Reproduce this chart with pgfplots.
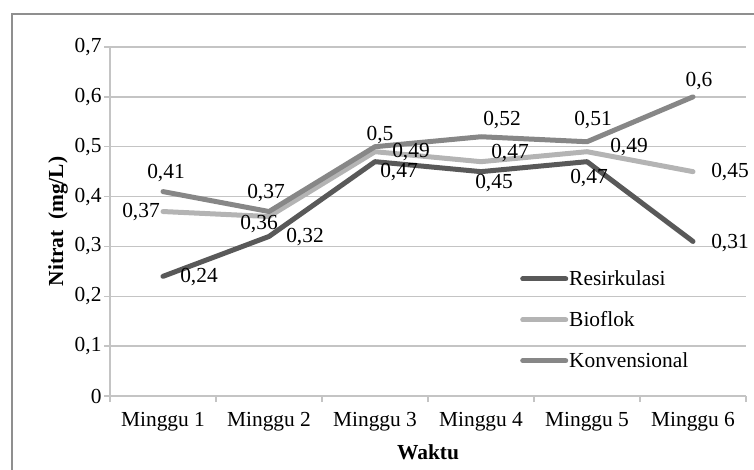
\documentclass[border=0pt]{standalone}
\usepackage{pgfplots}
\pgfplotsset{compat=1.18}
\usepackage{fontspec}
\setmainfont{Liberation Serif}

\definecolor{resir}{HTML}{595959}
\definecolor{biof}{HTML}{B4B4B4}
\definecolor{konv}{HTML}{878787}
\definecolor{gridc}{HTML}{C4C4C4}
\definecolor{framec}{HTML}{8F8F8F}

\newcommand\chartfont{\fontsize{21.5}{25}\selectfont}
% value label: #1 = coordinate, #2 = text, #3/#4 = shift in bp
\newcommand\lab[4]{\node[font=\chartfont, inner sep=0pt] at ([shift={(#3bp,#4bp)}]axis cs:#1) {#2};}

\begin{document}
\begin{tikzpicture}
\path[use as bounding box] (0bp,0bp) rectangle (754bp,470bp);
\draw[framec, line width=2bp] (12bp,-20bp) -- (12bp,456bp) -- (790bp,456bp);
\begin{axis}[
  at={(110bp,74bp)}, anchor=south west,
  scale only axis, width=636bp, height=349bp,
  xmin=0.5, xmax=6.5, ymin=0, ymax=0.7,
  clip=false,
  axis lines*=left,
  axis line style={gridc, line width=1.3bp},
  ymajorgrids, grid style={gridc, line width=1.3bp},
  xtick={0.5,1.5,2.5,3.5,4.5,5.5,6.5},
  x tick label as interval,
  xticklabels={Minggu 1,Minggu 2,Minggu 3,Minggu 4,Minggu 5,Minggu 6},
  ytick={0,0.1,0.2,0.3,0.4,0.5,0.6,0.7},
  yticklabels={0,{0,1},{0,2},{0,3},{0,4},{0,5},{0,6},{0,7}},
  tick align=outside, major tick length=6bp,
  tick style={gridc, line width=1.3bp},
  ticklabel style={font=\chartfont, text=black},
  xticklabel style={yshift=-7bp},
  yticklabel style={xshift=1bp},
  xlabel={\textbf{Waktu}}, ylabel={\textbf{Nitrat~ (mg/L)}},
  label style={font=\chartfont, text=black},
  xlabel style={yshift=-6bp},
  legend style={draw=none, fill=none, font=\chartfont,
    at={(0.64,0.368)}, anchor=north west, row sep=22.5bp,
    nodes={inner sep=1bp}},
  legend cell align=left,
  legend image code/.code={\draw[#1, line cap=round] (0bp,0bp) -- (43bp,0bp);},
  every axis plot/.append style={line width=5bp, line join=round, line cap=round},
]
\addplot[resir] coordinates {(1,0.24) (2,0.32) (3,0.47) (4,0.45) (5,0.47) (6,0.31)};
\addlegendentry{Resirkulasi}
\addplot[biof] coordinates {(1,0.37) (2,0.36) (3,0.49) (4,0.47) (5,0.49) (6,0.45)};
\addlegendentry{Bioflok}
\addplot[konv] coordinates {(1,0.41) (2,0.37) (3,0.5) (4,0.52) (5,0.51) (6,0.6)};
\addlegendentry{Konvensional}

% Konvensional
\lab{1,0.41}{0,41}{3}{18.6}
\lab{2,0.37}{0,37}{-3}{18.5}
\lab{3,0.5}{0,5}{5}{12}
\lab{4,0.52}{0,52}{21}{17}
\lab{5,0.51}{0,51}{6}{22}
\lab{6,0.6}{0,6}{6}{16}
% Bioflok
\lab{1,0.37}{0,37}{-22}{-0.5}
\lab{2,0.36}{0,36}{-10}{-7.5}
\lab{3,0.49}{0,49}{36}{0}
\lab{4,0.47}{0,47}{29}{9}
\lab{5,0.49}{0,49}{42}{5}
\lab{6,0.45}{0,45}{37}{0}
% Resirkulasi
\lab{1,0.24}{0,24}{36}{-1}
\lab{2,0.32}{0,32}{36}{-1}
\lab{3,0.47}{0,47}{24}{-10}
\lab{4,0.45}{0,45}{13}{-11}
\lab{5,0.47}{0,47}{2}{-16}
\lab{6,0.31}{0,31}{37}{-2}
\end{axis}
\end{tikzpicture}
\end{document}
